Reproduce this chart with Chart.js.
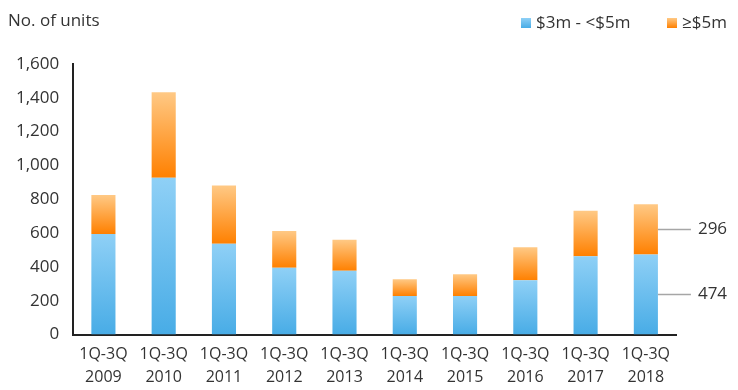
<!DOCTYPE html>
<html>
<head>
<meta charset="utf-8">
<script src="https://cdn.jsdelivr.net/npm/chart.js@4.4.1/dist/chart.umd.min.js"></script>
<style>
  html, body { margin: 0; padding: 0; background: #fff; }
  #wrap { width: 738px; height: 390px; position: relative; }
</style>
</head>
<body>
<div id="wrap"><canvas id="grafico"></canvas></div>
<script>
// Dados
const categorias = ['2009', '2010', '2011', '2012', '2013', '2014', '2015', '2016', '2017', '2018'];
const unidades3a5 = [595, 927, 537, 395, 377, 228, 228, 321, 464, 474];
const unidadesAcima5 = [230, 506, 344, 218, 184, 99, 129, 195, 268, 296];
const ticksY = [0, 200, 400, 600, 800, 1000, 1200, 1400, 1600];

const fonte = "'Open Sans', 'Noto Sans', sans-serif";

// Gradiente vertical por segmento de barra (calculado pela escala y)
function gradiente(topo, base) {
    return (ctx) => {
        const chart = ctx.chart;
        const y = chart.scales && chart.scales.y;
        if (!chart.chartArea || !y || ctx.type !== 'data') return base;
        const i = ctx.dataIndex;
        const inicio = ctx.datasetIndex === 0 ? 0 : unidades3a5[i];
        const fim = ctx.datasetIndex === 0 ? unidades3a5[i] : unidades3a5[i] + unidadesAcima5[i];
        const y0 = y.getPixelForValue(fim), y1 = y.getPixelForValue(inicio);
        if (!isFinite(y0) || !isFinite(y1) || y1 - y0 < 1) return base;
        const g = chart.ctx.createLinearGradient(0, y0, 0, y1);
        g.addColorStop(0, topo);
        g.addColorStop(1, base);
        return g;
    };
}

// Título, legenda e rótulos do último ano
const extras = {
    id: 'extras',
    afterDraw(chart) {
        const c = chart.ctx;
        c.save();
        c.font = '17px ' + fonte;
        c.fillStyle = '#333';
        c.textBaseline = 'middle';
        c.textAlign = 'left';
        c.fillText('No. of units', 8, 21);

        // legenda
        const itens = [
            { x: 521, texto: '$3m - <$5m', topo: '#8fd0f6', base: '#48ace6' },
            { x: 667, texto: '≥$5m', topo: '#ffc985', base: '#ff8000' }
        ];
        itens.forEach(it => {
            const g = c.createLinearGradient(0, 18, 0, 28);
            g.addColorStop(0, it.topo);
            g.addColorStop(1, it.base);
            c.fillStyle = g;
            c.fillRect(it.x, 18, 10, 10);
            c.fillStyle = '#333';
            c.fillText(it.texto, it.x + 15, 23);
        });

        const ultimo = categorias.length - 1;
        [0, 1].forEach(i => {
            const el = chart.getDatasetMeta(i).data[ultimo];
            const meio = (el.y + el.base) / 2;
            const x0 = el.x + el.width / 2;
            c.strokeStyle = '#a6a6a6';
            c.lineWidth = 1.5;
            c.beginPath();
            c.moveTo(x0, meio);
            c.lineTo(x0 + 33, meio);
            c.stroke();
            const valor = i === 0 ? unidades3a5[ultimo] : unidadesAcima5[ultimo];
            c.fillText(String(valor), x0 + 40, meio);
        });
        c.restore();
    }
};

window.addEventListener('DOMContentLoaded', () => {
    const ctx = document.getElementById('grafico').getContext('2d');
    new Chart(ctx, {
        type: 'bar',
        data: {
            labels: categorias.map(a => ['1Q-3Q', a]),
            datasets: [{
                label: '$3m - <$5m',
                data: unidades3a5,
                backgroundColor: gradiente('#8fd0f6', '#48ace6'),
                barPercentage: 0.4,
                categoryPercentage: 1
            }, {
                label: '≥$5m',
                data: unidadesAcima5,
                backgroundColor: gradiente('#ffc985', '#ff8000'),
                barPercentage: 0.4,
                categoryPercentage: 1
            }]
        },
        options: {
            responsive: true,
            maintainAspectRatio: false,
            animation: false,
            layout: { padding: { left: 2, right: 62, top: 64, bottom: -7 } },
            plugins: {
                legend: { display: false },
                tooltip: { enabled: false }
            },
            scales: {
                x: {
                    stacked: true,
                    grid: { display: false, drawTicks: false },
                    border: { color: '#222', width: 2 },
                    ticks: {
                        color: '#333',
                        font: { family: fonte, size: 16, lineHeight: 1.45 },
                        maxRotation: 0,
                        autoSkip: false,
                        padding: 8
                    }
                },
                y: {
                    stacked: true,
                    min: 0,
                    max: 1600,
                    afterBuildTicks: (axis) => { axis.ticks = ticksY.map(v => ({ value: v })); },
                    grid: { display: false, drawTicks: false },
                    border: { color: '#222', width: 2 },
                    ticks: {
                        color: '#333',
                        font: { family: fonte, size: 17 },
                        padding: 14,
                        callback: (v) => v.toLocaleString('en-US')
                    }
                }
            }
        },
        plugins: [extras]
    });
});
</script>
</body>
</html>
